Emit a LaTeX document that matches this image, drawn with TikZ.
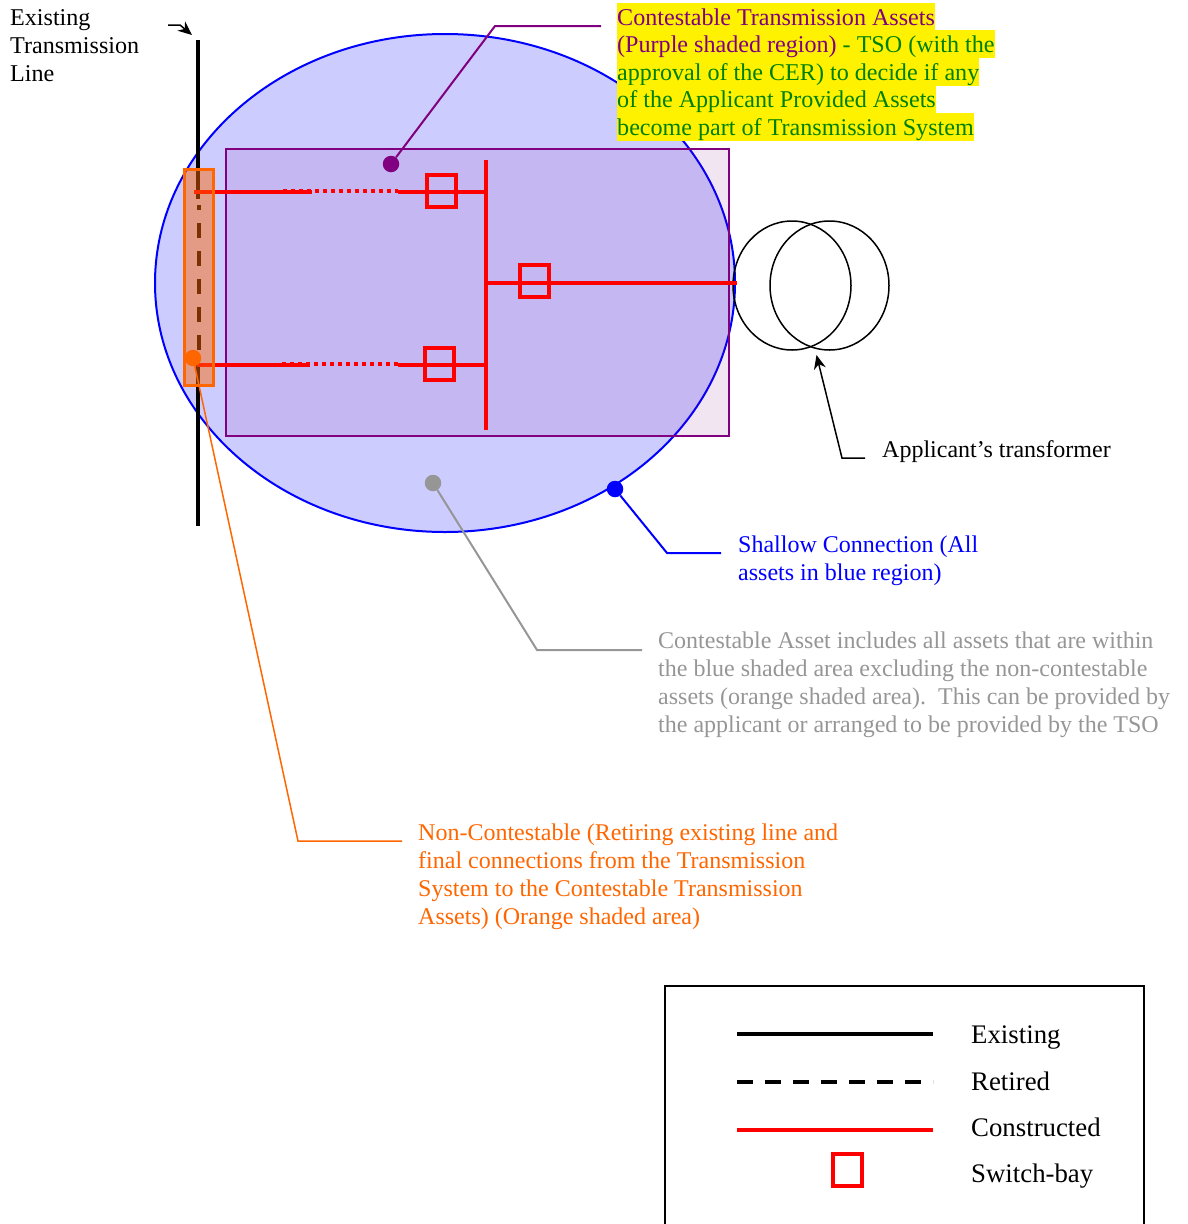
\documentclass[tikz,border=0pt]{standalone}
\usepackage{fontspec}
\usetikzlibrary{shapes.geometric, arrows.meta}
\setmainfont{Liberation Serif}
\definecolor{calloutgreen}{RGB}{0,128,0}
\definecolor{calloutpurple}{RGB}{128,0,128}
\definecolor{calloutorange}{RGB}{255,102,0}
\definecolor{calloutgrey}{RGB}{150,150,150}

\begin{document}
\begin{tikzpicture}[
                x = 1pt, y = -1pt,
                > = {Stealth[length = 14pt, width = 12pt]},
                every node/.style={ font = \fontsize{24}{28}\selectfont },
                caption/.style={ inner sep = 0, anchor = north west, align = left },
                legendtext/.style={ caption, font = \fontsize{26.8}{30}\selectfont },
                hilite/.style={ inner sep = 0, anchor = north west, fill = yellow, text height = 22pt, text depth = 6pt, font = \fontsize{24.1}{28}\selectfont },
                dot/.style={ circle, inner sep = 0, minimum size = 16.5pt },
                bay/.style={ rectangle, draw = red, line width = 4pt, inner sep = 0, minimum width = 29pt, minimum height = 32pt },
                constructed/.style={ red, line width = 4pt },
                dotted constructed/.style={ constructed, dash pattern = on 4pt off 4pt },
                outline/.style={ line width = 1.5pt }
            ]
            \useasboundingbox (0, 0) rectangle (1188, 1224);

            % shaded regions
            \node (regionB) [ellipse, draw = blue, line width = 2pt, fill = blue!20, inner sep = 0, minimum width = 580pt, minimum height = 498pt] at (445, 283) {};

            % existing and retired line
            \coordinate (linetop) at (198, 40);
            \coordinate (lineA) at (198, 199);
            \coordinate (retA) at (199.3, 205);
            \coordinate (retB) at (199.3, 350);
            \coordinate (lineB) at (198, 365);
            \coordinate (linebot) at (198, 526);
            \draw [black, line width = 4pt] (linetop) -- (lineA);
            \draw [black, line width = 4pt, dash pattern = on 15pt off 13pt, dash phase = 10pt] (retA) -- (retB);
            \draw [black, line width = 4pt] (lineB) -- (linebot);

            \node (regionP) [rectangle, draw = calloutpurple, outline, fill = calloutpurple, fill opacity = .1, draw opacity = 1, minimum width = 503pt, minimum height = 287pt] at (477.5, 292.5) {};

            % transformer
            \node (tleft)  [ellipse, draw, outline, inner sep = 0, minimum width = 118pt, minimum height = 129pt] at (792, 285.5) {};
            \node (tright) [ellipse, draw, outline, inner sep = 0, minimum width = 119pt, minimum height = 129pt] at (829.5, 285.5) {};

            % busbar and switch bays
            \coordinate (bustop) at (486, 160);
            \coordinate (busbot) at (486, 430);
            \draw [constructed] (bustop) -- (busbot);
            \node (bayA) [bay] at (441, 191) {};
            \node (bayB) [bay] at (439, 363.7) {};
            \node (bayC) [bay] at (534, 281.3) {};

            \coordinate (feedA) at (194, 192);
            \coordinate (feedAa) at (312, 192);
            \coordinate (dotsAa) at (283, 190.8);
            \coordinate (dotsAb) at (398, 190.8);
            \coordinate (feedAb) at (398, 192);
            \coordinate (busA) at (486, 192);
            \coordinate (feedB) at (197, 365);
            \coordinate (feedBa) at (310, 365);
            \coordinate (dotsBa) at (282, 364);
            \coordinate (dotsBb) at (398, 364);
            \coordinate (feedBb) at (398, 365);
            \coordinate (busB) at (486, 365);
            \coordinate (busC) at (486, 282.5);
            \coordinate (tap) at (737, 282.5);
            \draw [constructed] (feedA) -- (feedAa);
            \draw [dotted constructed] (dotsAa) -- (dotsAb);
            \draw [constructed] (feedAb) -- (busA);
            \draw [constructed] (feedB) -- (feedBa);
            \draw [dotted constructed] (dotsBa) -- (dotsBb);
            \draw [constructed] (feedBb) -- (busB);
            \draw [constructed] (busC) -- (tap);

            % orange region goes over the lines
            \node (regionO) [rectangle, draw = calloutorange, line width = 3pt, fill = calloutorange, fill opacity = .48, draw opacity = 1, minimum width = 29pt, minimum height = 216pt] at (199, 277.5) {};

            % existing line label
            \node (existing) [caption, font = \fontsize{24.1}{28}\selectfont] at (10, 9) {Existing\\Transmission\\Line};
            \coordinate (existA) at (168, 25);
            \coordinate (existB) at (180, 25);
            \coordinate (existC) at (192, 35);
            \draw [->, line width = 1.5pt] (existA) -- (existB) -- (existC);

            % purple and green callout
            \node (hlA) [hilite, text = calloutpurple] at (617, 3) {Contestable Transmission Assets};
            \node (hlB) [hilite] at (617, 30) {\textcolor{calloutpurple}{(Purple shaded region)} \textcolor{calloutgreen}{- TSO (with the}};
            \node (hlC) [hilite, text = calloutgreen] at (617, 58) {approval of the CER) to decide if any};
            \node (hlD) [hilite, text = calloutgreen] at (617, 85) {of the Applicant Provided Assets};
            \node (hlE) [hilite, text = calloutgreen] at (617, 113) {become part of Transmission System};
            \node (dotP) [dot, fill = calloutpurple] at (391, 164) {};
            \coordinate (elbowP) at (495, 26);
            \coordinate (endP) at (601, 26);
            \draw [calloutpurple, line width = 2pt] (dotP) -- (elbowP) -- (endP);

            % transformer callout
            \node (transformer) [caption] at (882, 440) {Applicant’s transformer};
            \coordinate (elbowT) at (842, 458);
            \coordinate (endT) at (865, 458);
            \coordinate (tipT) at (816.5, 355);
            \draw [->, line width = 1.5pt] (endT) -- (elbowT) -- (tipT);

            % blue callout
            \node (shallow) [caption, text = blue] at (738, 536) {Shallow Connection (All\\assets in blue region)};
            \node (dotB) [dot, fill = blue] at (615, 489) {};
            \coordinate (elbowB) at (667, 553);
            \coordinate (endB) at (721, 553);
            \draw [blue, line width = 2pt] (dotB) -- (elbowB) -- (endB);

            % grey callout
            \node (contest) [caption, text = calloutgrey] at (658, 632) {Contestable Asset includes all assets that are within\\the blue shaded area excluding the non-contestable\\assets (orange shaded area).\ \ This can be provided by\\the applicant or arranged to be provided by the TSO};
            \node (dotG) [dot, fill = calloutgrey] at (433, 483) {};
            \coordinate (elbowG) at (537, 650);
            \coordinate (endG) at (642, 650);
            \draw [calloutgrey, line width = 2pt] (dotG) -- (elbowG) -- (endG);

            % orange callout
            \node (noncontest) [caption, text = calloutorange] at (418, 824) {Non-Contestable (Retiring existing line and\\final connections from the Transmission\\System to the Contestable Transmission\\Assets) (Orange shaded area)};
            \node (dotO) [dot, fill = calloutorange] at (193, 358) {};
            \coordinate (elbowO) at (298, 841);
            \coordinate (endO) at (402, 841);
            \draw [calloutorange, outline] (dotO) -- (elbowO) -- (endO);

            % legend
            \coordinate (legTL) at (665, 986);
            \coordinate (legBR) at (1144, 1240);
            \draw [line width = 1.5pt] (legTL) rectangle (legBR);
            \coordinate (lineAa) at (737, 1034);
            \coordinate (lineAb) at (933, 1034);
            \coordinate (lineBa) at (737, 1082);
            \coordinate (lineBb) at (933, 1082);
            \coordinate (lineCa) at (737, 1130);
            \coordinate (lineCb) at (933, 1130);
            \draw [black, line width = 4pt] (lineAa) -- (lineAb);
            \draw [black, line width = 4pt, dash pattern = on 16pt off 12pt] (lineBa) -- (lineBb);
            \draw [constructed] (lineCa) -- (lineCb);
            \node (bayD) [bay] at (847.5, 1170) {};
            \node (legA) [legendtext] at (971, 1026) {Existing};
            \node (legB) [legendtext] at (971, 1072) {Retired};
            \node (legC) [legendtext] at (971, 1118) {Constructed};
            \node (legD) [legendtext] at (971, 1164) {Switch-bay};
        \end{tikzpicture}
\end{document}
